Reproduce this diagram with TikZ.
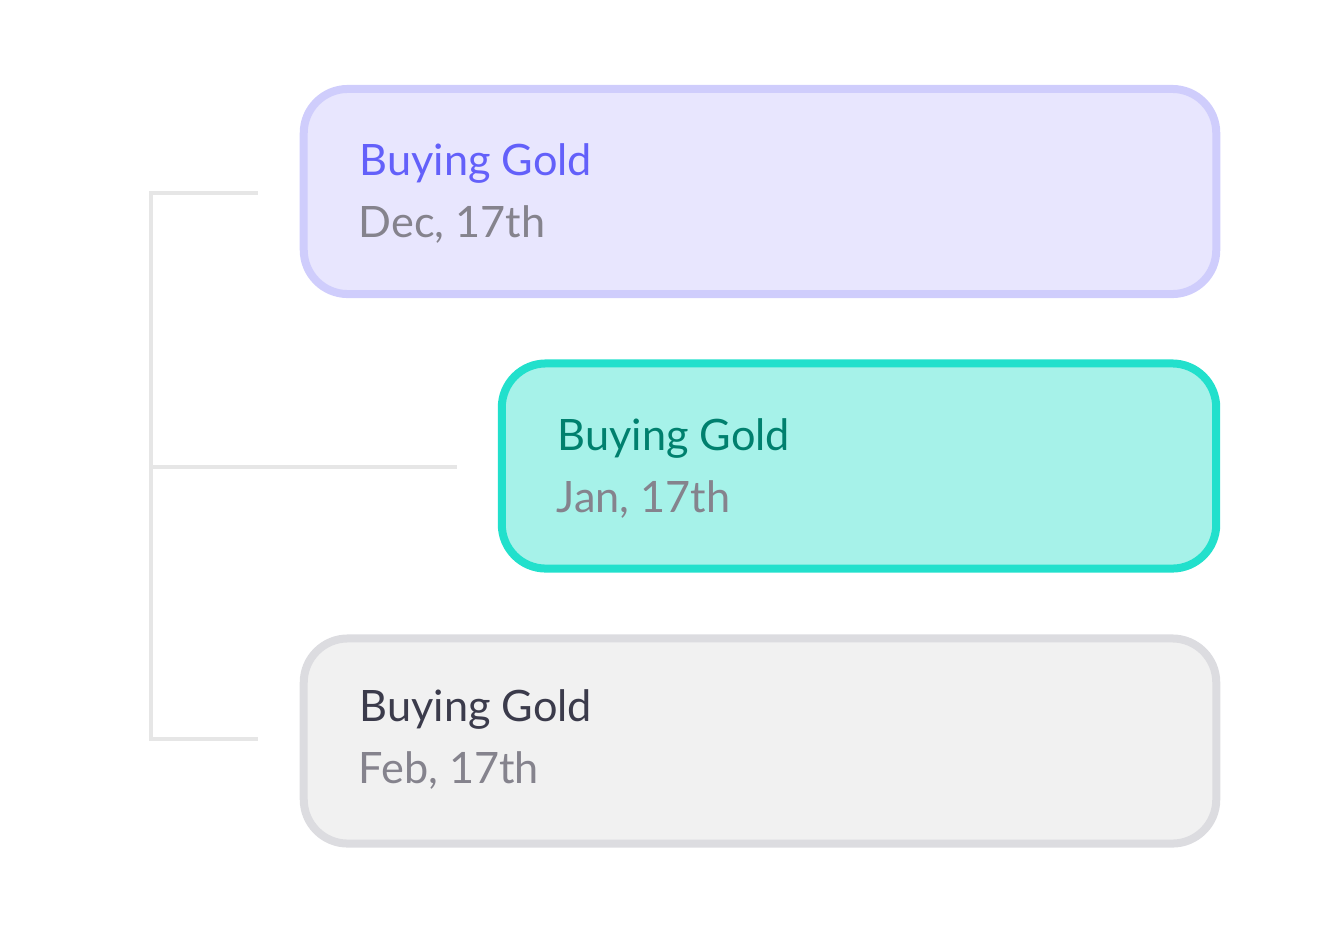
\documentclass[tikz,border=0pt]{standalone}
\usepackage{fontspec}
\setmainfont{Lato}
\usepackage{xcolor}
\usepackage{tikz}
\usetikzlibrary{positioning,calc}

\definecolor{decfill}{HTML}{E8E6FE}
\definecolor{decline}{HTML}{CFCDFC}
\definecolor{dectext}{HTML}{6360FA}
\definecolor{janfill}{HTML}{A6F2E9}
\definecolor{janline}{HTML}{22E0CC}
\definecolor{jantext}{HTML}{00806E}
\definecolor{febfill}{HTML}{F1F1F1}
\definecolor{febline}{HTML}{DCDCE0}
\definecolor{febtext}{HTML}{3B3B4B}
\definecolor{datetext}{HTML}{85838D}
\definecolor{treeline}{HTML}{E6E6E6}

\tikzset{
  card/.style={draw, rounded corners=0.44cm, line width=0.08cm, minimum height=2.05cm},
  title/.style={anchor=base west, inner sep=0pt, font=\fontsize{12.3}{15}\selectfont},
  date/.style={title, text=datetext},
  branch/.style={draw=treeline, line width=0.04cm}
}

\begin{document}
\begin{tikzpicture}[x=0.01cm, y=-0.01cm]
    \useasboundingbox (0,0) rectangle (1325,933);
    % cards
    \node (dec) [card, fill=decfill, draw=decline, minimum width=9.12cm] at (760,191.5) {};
    \node (jan) [card, fill=janfill, draw=janline, minimum width=7.14cm] at (859,466) {};
    \node (feb) [card, fill=febfill, draw=febline, minimum width=9.12cm] at (760,741) {};
    % texts
    \node (dectitle) [title, text=dectext] at (359,175) {Buying Gold};
    \node (decdate) [date] at (358,237) {Dec, 17th};
    \node (jantitle) [title, text=jantext] at (557,450) {Buying Gold};
    \node (jandate) [date] at (556,512) {Jan, 17th};
    \node (febtitle) [title, text=febtext] at (359,721) {Buying Gold};
    \node (febdate) [date] at (358,783) {Feb, 17th};
    % tree
    \coordinate (top) at (151,191);
    \coordinate (mid) at (151,467);
    \coordinate (bot) at (151,741);
    \coordinate (topend) at (258,193);
    \coordinate (midend) at (457,467);
    \coordinate (botend) at (258,739);
    \draw[branch] (top) -- (bot);
    \draw[branch] (149,193) -- (topend);
    \draw[branch] (149,467) -- (midend);
    \draw[branch] (149,739) -- (botend);
\end{tikzpicture}
\end{document}
